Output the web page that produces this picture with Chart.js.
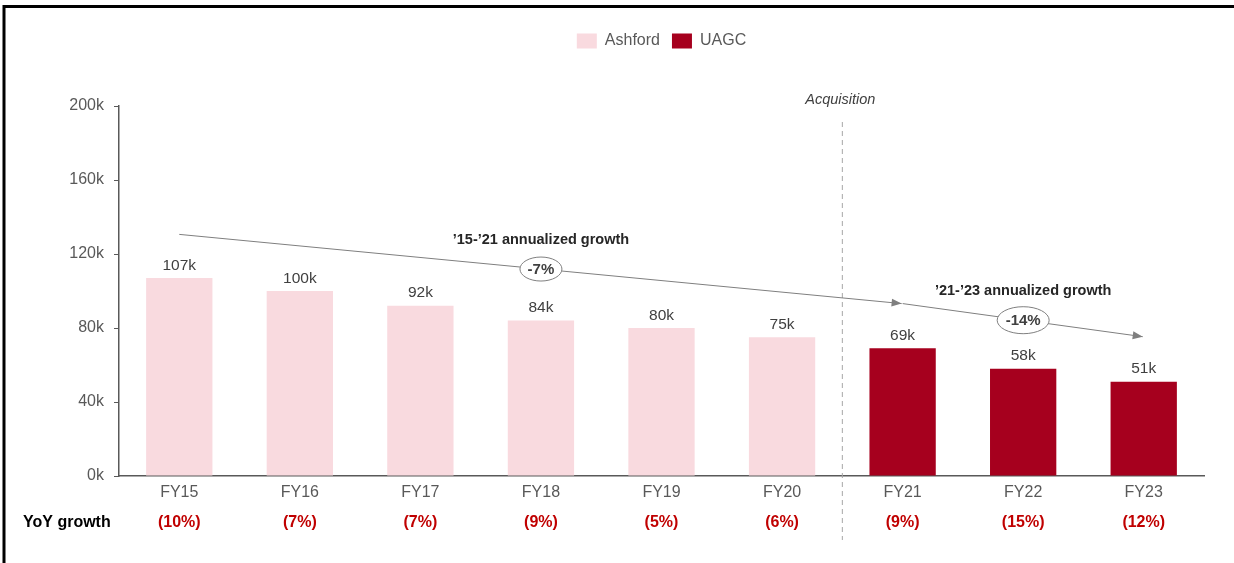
<!DOCTYPE html>
<html>
  <head>
    <meta charset="UTF-8">
    <title>Enrollment FY15-FY23</title>
    <script src="https://cdn.jsdelivr.net/npm/chart.js"></script>
    <style>
      html, body { margin: 0; padding: 0; background: #fff; }
      #wrap { width: 1234px; height: 563px; }
    </style>
  </head>
  <body>
    <div id="wrap"><canvas id="enrollChart"></canvas></div>
    <script>
      const years = ['FY15', 'FY16', 'FY17', 'FY18', 'FY19', 'FY20', 'FY21', 'FY22', 'FY23'];
      const ashford = [107000, 100000, 92000, 84000, 80000, 75000, null, null, null];
      const uagc = [null, null, null, null, null, null, 69000, 58000, 51000];
      const yoy = ['(10%)', '(7%)', '(7%)', '(9%)', '(5%)', '(6%)', '(9%)', '(15%)', '(12%)'];
      const yTicks = [0, 40000, 80000, 120000, 160000, 200000];

      // trend arrows: [fromIndex, fromValue, toIndex, toValue]
      const trend1 = [0, 130600, 6, 93200];
      const trend2 = [6, 93200, 8, 75300];
      const cagr1 = { label: '\u201915-\u201921 annualized growth', value: '-7%', at: 3, w: 42, h: 24 };
      const cagr2 = { label: '\u201921-\u201923 annualized growth', value: '-14%', at: 7, w: 52, h: 27 };
      const acquisitionAfter = 5;

      const FONT = '"Liberation Sans", Arial, sans-serif';
      const PINK = '#F9DADF';
      const RED = '#A6001E';

      function arrow(ctx, x1, y1, x2, y2) {
        ctx.beginPath();
        ctx.moveTo(x1, y1);
        ctx.lineTo(x2, y2);
        ctx.stroke();
        const a = Math.atan2(y2 - y1, x2 - x1);
        ctx.beginPath();
        ctx.moveTo(x2, y2);
        ctx.lineTo(x2 - 10 * Math.cos(a) + 4 * Math.sin(a), y2 - 10 * Math.sin(a) - 4 * Math.cos(a));
        ctx.lineTo(x2 - 10 * Math.cos(a) - 4 * Math.sin(a), y2 - 10 * Math.sin(a) + 4 * Math.cos(a));
        ctx.closePath();
        ctx.fill();
      }

      const extras = {
        id: 'extras',
        beforeInit(chart) {
          const fit = chart.legend.fit;
          chart.legend.fit = function () {
            fit.call(this);
            this.height = 85;
          };
        },
        afterLayout(chart) {
          // centre the legend over the plot area
          const shift = (chart.chartArea.left + chart.chartArea.right) / 2 - (chart.legend.left + chart.legend.right) / 2;
          chart.legend.left += shift;
          chart.legend.right += shift;
        },
        afterDatasetsDraw(chart) {
          const ctx = chart.ctx;
          const xs = chart.scales.x, ys = chart.scales.y;
          ctx.save();

          // value labels
          ctx.font = '15.5px ' + FONT;
          ctx.fillStyle = '#404040';
          ctx.textAlign = 'center';
          ctx.textBaseline = 'bottom';
          chart.data.datasets.forEach((ds, di) => {
            chart.getDatasetMeta(di).data.forEach((bar, i) => {
              if (ds.data[i] == null) return;
              ctx.fillText(Math.round(ds.data[i] / 1000) + 'k', bar.x, bar.y - 5);
            });
          });

          // acquisition divider
          const ax = (xs.getPixelForValue(acquisitionAfter) + xs.getPixelForValue(acquisitionAfter + 1)) / 2;
          ctx.strokeStyle = '#A6A6A6';
          ctx.lineWidth = 1;
          ctx.setLineDash([5, 4]);
          ctx.beginPath();
          ctx.moveTo(ax, chart.chartArea.top + 16);
          ctx.lineTo(ax, 540);
          ctx.stroke();
          ctx.setLineDash([]);
          ctx.font = 'italic 14.5px ' + FONT;
          ctx.fillStyle = '#404040';
          ctx.textBaseline = 'middle';
          ctx.fillText('Acquisition', ax - 2, 100);

          // trend arrows with growth bubbles
          ctx.strokeStyle = '#7F7F7F';
          [[trend1, cagr1], [trend2, cagr2]].forEach(([t, c]) => {
            const x1 = xs.getPixelForValue(t[0]), y1 = ys.getPixelForValue(t[1]);
            const x2 = xs.getPixelForValue(t[2]) - 1, y2 = ys.getPixelForValue(t[3]);
            ctx.fillStyle = '#7F7F7F';
            arrow(ctx, x1, y1, x2, y2);
            const cx = xs.getPixelForValue(c.at);
            const cy = y1 + (y2 - y1) * (cx - x1) / (x2 - x1);
            ctx.beginPath();
            ctx.ellipse(cx, cy, c.w / 2, c.h / 2, 0, 0, Math.PI * 2);
            ctx.fillStyle = '#fff';
            ctx.fill();
            ctx.stroke();
            ctx.fillStyle = '#404040';
            ctx.font = 'bold 15px ' + FONT;
            ctx.fillText(c.value, cx, cy + 1);
            ctx.fillStyle = '#262626';
            ctx.font = 'bold 14.5px ' + FONT;
            ctx.fillText(c.label, cx, cy - 29);
          });

          // YoY growth row
          ctx.font = 'bold 16px ' + FONT;
          ctx.fillStyle = '#000';
          ctx.textAlign = 'left';
          ctx.fillText('YoY growth', 23, 523);
          ctx.textAlign = 'center';
          ctx.fillStyle = '#C00000';
          yoy.forEach((t, i) => ctx.fillText(t, xs.getPixelForValue(i), 523));

          // frame
          ctx.strokeStyle = '#000';
          ctx.lineWidth = 3;
          ctx.beginPath();
          ctx.moveTo(4, 563);
          ctx.lineTo(4, 6.5);
          ctx.lineTo(1234, 6.5);
          ctx.stroke();
          ctx.restore();
        }
      };

      new Chart(document.getElementById('enrollChart'), {
        type: 'bar',
        data: {
          labels: years,
          datasets: [
            { label: 'Ashford', data: ashford, backgroundColor: PINK },
            { label: 'UAGC', data: uagc, backgroundColor: RED }
          ]
        },
        options: {
          responsive: true,
          maintainAspectRatio: false,
          animation: false,
          layout: { padding: { top: 21, left: 0, right: 30, bottom: 0 } },
          datasets: { bar: { barPercentage: 0.55, categoryPercentage: 1 } },
          plugins: {
            tooltip: { enabled: false },
            legend: {
              position: 'top',
              labels: {
                boxWidth: 20,
                boxHeight: 15,
                padding: 12,
                color: '#595959',
                font: { family: FONT, size: 16 }
              }
            }
          },
          scales: {
            x: {
              stacked: true,
              grid: { display: false, drawTicks: false },
              border: { color: '#595959', width: 1.5 },
              ticks: { color: '#595959', font: { family: FONT, size: 16 }, padding: 7 },
              afterFit(scale) { scale.height = 87; }
            },
            y: {
              stacked: true,
              min: 0,
              max: 200000,
              afterBuildTicks(scale) { scale.ticks = yTicks.map(v => ({ value: v })); },
              grid: { drawOnChartArea: false, drawTicks: true, tickLength: 5, color: '#595959' },
              border: { color: '#595959', width: 1.5 },
              ticks: {
                color: '#595959',
                font: { family: FONT, size: 16 },
                padding: 10,
                callback: v => (v / 1000) + 'k'
              },
              afterFit(scale) { scale.width = 119; }
            }
          }
        },
        plugins: [extras]
      });
    </script>
  </body>
</html>
